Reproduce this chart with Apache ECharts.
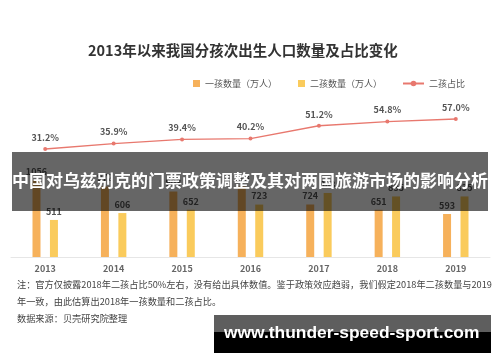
<!DOCTYPE html>
<html>
<head>
<meta charset="utf-8">
<script src="https://cdn.jsdelivr.net/npm/echarts@6/dist/echarts.min.js"></script>
<style>
html,body{margin:0;padding:0;background:#fff;}
#c{width:500px;height:362px;}
</style>
</head>
<body>
<div id="c"></div>
<script>
var years = ['2013','2014','2015','2016','2017','2018','2019'];
var firstChild = [1056, 972, 903, 973, 724, 651, 593];
var secondChild = [511, 606, 652, 723, 883, 835, 835];
var secondShare = [31.2, 35.9, 39.4, 40.2, 51.2, 54.8, 57.0];
var titleText = '2013年以来我国分孩次出生人口数量及占比变化';
var legendNames = ['一孩数量（万人）', '二孩数量（万人）', '二孩占比'];
var noteLines = [
  '注：官方仅披露2018年二孩占比50%左右，没有给出具体数值。鉴于政策效应趋弱，我们假定2018年二孩数量与2019',
  '年一致，由此估算出2018年一孩数量和二孩占比。',
  '数据来源：贝壳研究院整理'
];
var bannerText = '中国对乌兹别克的门票政策调整及其对两国旅游市场的影响分析';
var watermarkText = 'www.thunder-speed-sport.com';

var FONT = '"Noto Sans CJK SC", "Noto Sans", sans-serif';
var chart = echarts.init(document.getElementById('c'), null, {renderer:'canvas'});
var legendText = {fontSize: 9, color: '#555', fontFamily: FONT};
var option = {
  animation: false,
  textStyle: {fontFamily: FONT},
  title: {
    text: titleText, left: 88, top: 43, padding: 0,
    textStyle: {fontSize: 14.5, fontWeight: 'bold', color: '#333', fontFamily: FONT}
  },
  legend: [
    {data: [legendNames[0]], left: 193, top: 79, padding: 0, itemWidth: 7, itemHeight: 7, icon: 'rect', itemGap: 0, textStyle: legendText},
    {data: [legendNames[1]], left: 298, top: 79, padding: 0, itemWidth: 7, itemHeight: 7, icon: 'rect', itemGap: 0, textStyle: legendText},
    {data: [legendNames[2]], left: 402, top: 79, padding: 0, itemWidth: 21, itemHeight: 7, itemGap: 0, textStyle: legendText}
  ],
  grid: {left: 11, right: 10, top: 100, bottom: 105},
  xAxis: {
    type: 'category', data: years,
    axisLine: {lineStyle: {color: '#e6e6e6', width: 1}},
    axisTick: {show: false},
    axisLabel: {color: '#666', fontSize: 9, fontWeight: 'bold', margin: 7, fontFamily: FONT}
  },
  yAxis: [
    {type: 'value', min: 0, max: 2165, show: false, splitLine: {show: false}},
    {type: 'value', min: -61.66, max: 73.33, show: false, splitLine: {show: false}}
  ],
  series: [
    {
      name: legendNames[0], type: 'bar', data: firstChild, barWidth: 8, barGap: '118%',
      itemStyle: {color: '#F6B15B'},
      label: {show: true, position: 'top', distance: 4, fontSize: 9, fontWeight: 'bold', color: '#555', fontFamily: FONT}
    },
    {
      name: legendNames[1], type: 'bar', data: secondChild, barWidth: 8,
      itemStyle: {color: '#FACB5C'},
      label: {show: true, position: 'top', distance: 4, fontSize: 9, fontWeight: 'bold', color: '#555', fontFamily: FONT}
    },
    {
      name: legendNames[2], type: 'line', yAxisIndex: 1, data: secondShare,
      symbol: 'circle', symbolSize: 4,
      lineStyle: {color: '#E8786E', width: 1.3},
      itemStyle: {color: '#E8786E'},
      label: {show: true, position: 'top', distance: 5, fontSize: 9, fontWeight: 'bold', color: '#555', fontFamily: FONT,
        formatter: function(p){ return p.value.toFixed(1) + '%'; }}
    }
  ],
  graphic: [
    {type: 'text', left: 17, top: 280, z: 50, style: {text: noteLines[0], fontSize: 9.2, fill: '#444', fontFamily: FONT}},
    {type: 'text', left: 17, top: 297, z: 50, style: {text: noteLines[1], fontSize: 9.2, fill: '#444', fontFamily: FONT}},
    {type: 'text', left: 17, top: 314, z: 50, style: {text: noteLines[2], fontSize: 9.2, fill: '#444', fontFamily: FONT}},
    {type: 'rect', z: 100, shape: {x: 12, y: 152, width: 476, height: 59}, style: {fill: 'rgba(0,0,0,0.6)'}},
    {type: 'text', z: 101, left: 'center', top: 172, style: {text: bannerText, fontSize: 17, fontWeight: 'bold', fill: '#fff', fontFamily: FONT}},
    {type: 'rect', z: 100, shape: {x: 214, y: 315, width: 277, height: 17}, style: {fill: '#5e5e5e'}},
    {type: 'rect', z: 100, shape: {x: 214, y: 332, width: 277, height: 21}, style: {fill: '#000'}},
    {type: 'text', z: 101, left: 224, top: 325, style: {text: watermarkText, fontSize: 17.4, fontWeight: 'bold', fill: '#fff', fontFamily: '"Liberation Sans", Arial, sans-serif'}}
  ]
};
chart.setOption(option);
</script>
</body>
</html>
